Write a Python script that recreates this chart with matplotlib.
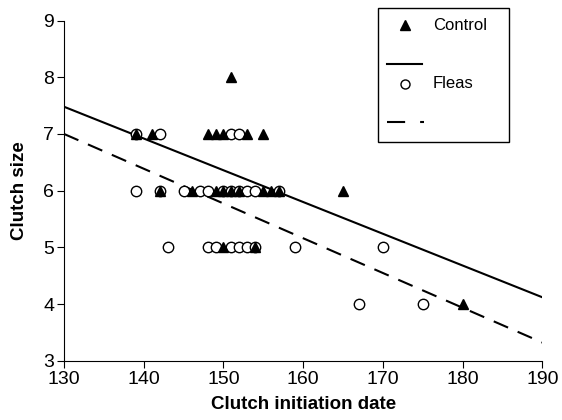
import numpy as np
import matplotlib
matplotlib.use("Agg")
import matplotlib.pyplot as plt
from matplotlib.lines import Line2D
from matplotlib.patches import Rectangle

plt.rcParams['font.family'] = ['Liberation Sans', 'DejaVu Sans']

# Control nests (filled triangles)
control_date = [139, 141, 148, 149, 150, 153, 155, 151,
                142, 146, 149, 150, 151, 152, 155, 156, 157, 165,
                150, 154, 180]
control_size = [7, 7, 7, 7, 7, 7, 7, 8,
                6, 6, 6, 6, 6, 6, 6, 6, 6, 6,
                5, 5, 4]

# Flea-infested nests (open circles)
fleas_date = [139, 142, 151, 152,
              139, 142, 145, 147, 148, 150, 151, 152, 153, 154, 157,
              143, 148, 149, 151, 152, 153, 154, 159, 170,
              167, 175]
fleas_size = [7, 7, 7, 7,
              6, 6, 6, 6, 6, 6, 6, 6, 6, 6, 6,
              5, 5, 5, 5, 5, 5, 5, 5, 5,
              4, 4]

# fitted lines (value at date 130, slope per day)
control_fit = [7.48, -0.0560]
fleas_fit = [7.00, -0.0613]
fit_range = [130, 190]

W, H = 562, 420
fig = plt.figure(figsize=(W / 100, H / 100), dpi=100)
ax = fig.add_axes([0.114, 0.141, 0.851, 0.81])

xs = np.array(fit_range)
ax.plot(xs, control_fit[0] + control_fit[1] * (xs - 130), color='black', lw=1.5)
ax.plot(xs, fleas_fit[0] + fleas_fit[1] * (xs - 130), color='black', lw=1.5,
        dashes=(7.5, 5))

ax.plot(fleas_date, fleas_size, 'o', ms=7.5, mfc='white', mec='black', mew=1)
ax.plot(control_date, control_size, '^', ms=7, color='black')

ax.set_xlim(130, 190)
ax.set_ylim(3, 9)
ax.set_xticks(range(130, 191, 10))
ax.set_yticks(range(3, 10))
ax.spines['top'].set_visible(False)
ax.spines['right'].set_visible(False)
ax.tick_params(direction='out', length=5, labelsize=14, pad=2)
ax.set_xlabel("Clutch initiation date", fontsize=13.5, fontweight='bold', labelpad=6)
ax.set_ylabel("Clutch size", fontsize=13.5, fontweight='bold', labelpad=11)


# hand-built legend box, laid out in figure pixels
def fx(x):
    return x / W


def fy(y):
    return 1 - y / H


tf = fig.transFigure
fig.add_artist(Rectangle((fx(378), fy(142)), fx(509) - fx(378), fy(8) - fy(142),
                         transform=tf, fill=False, ec='black', lw=1))
fig.add_artist(Line2D([fx(405)], [fy(25)], transform=tf, ls='none',
                      marker='^', ms=7, color='black'))
fig.text(fx(433), fy(25), "Control", fontsize=12, va='center', transform=tf)
fig.add_artist(Line2D([fx(387), fx(422)], [fy(64), fy(64)], transform=tf,
                      color='black', lw=1.5))
fig.add_artist(Line2D([fx(405)], [fy(84)], transform=tf, ls='none',
                      marker='o', ms=6.5, mfc='white', mec='black', mew=1))
fig.text(fx(433), fy(84), "Fleas", fontsize=12, va='center', transform=tf)
fig.add_artist(Line2D([fx(387), fx(424)], [fy(122), fy(122)], transform=tf,
                      color='black', lw=1.5, dashes=(8.7, 7.2)))

fig.savefig("out.png", dpi=100)
